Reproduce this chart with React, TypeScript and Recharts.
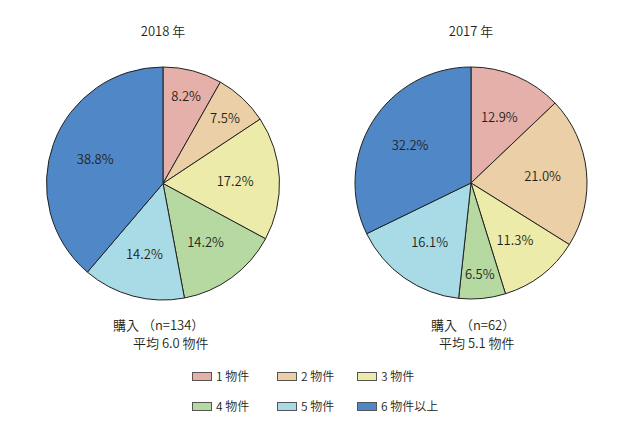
import { PieChart, Pie, Cell } from "recharts";

const categories = ["1 物件", "2 物件", "3 物件", "4 物件", "5 物件", "6 物件以上"];
const colors = ["#e6b0aa", "#ebcfa6", "#ecebaa", "#b6d9a2", "#a9dbe6", "#5087c7"];
const values2018 = [8.2, 7.5, 17.2, 14.2, 14.2, 38.8];
const values2017 = [12.9, 21.0, 11.3, 6.5, 16.1, 32.2];

const FONT = "'Noto Sans CJK JP', 'Noto Sans', sans-serif";
const INK = "#231f20";
const WEIGHT = 350;
const RAD = Math.PI / 180;

const toData = (vals: number[]) => categories.map((name, i) => ({ name, value: vals[i] }));

// labels sit inside the slices; small slices get pushed a bit further out
const renderLabel = (p: any) => {
  const { cx, cy, midAngle, outerRadius, percent, value } = p;
  const r = outerRadius * (percent < 0.1 ? 0.78 : 0.62);
  const x = cx + r * Math.cos(-midAngle * RAD);
  const y = cy + r * Math.sin(-midAngle * RAD);
  return (
    <text x={x} y={y} fill={INK} fontSize={13} fontWeight={WEIGHT} fontFamily={FONT} textAnchor="middle" dominantBaseline="central">
      {value.toFixed(1)}%
    </text>
  );
};

const txt = (left: number, top: number, s: string, size = 13, w?: number) => (
  <div
    style={{
      position: "absolute",
      left,
      top,
      width: w,
      fontSize: size,
      fontWeight: WEIGHT,
      fontFamily: FONT,
      color: INK,
      whiteSpace: "pre",
      textAlign: w ? "center" : "left",
      lineHeight: 1,
    }}
  >
    {s}
  </div>
);

export default function App() {
  const legendX = [192, 277, 357];
  const legendY = [372, 402];
  return (
    <div style={{ position: "absolute", left: 0, top: 0, width: 634, height: 434, background: "#fff" }}>
      <PieChart width={634} height={434} margin={{ top: 0, right: 0, bottom: 0, left: 0 }}>
        <Pie
          data={toData(values2018)}
          dataKey="value"
          cx={163}
          cy={183.5}
          outerRadius={116.5}
          startAngle={90}
          endAngle={-270}
          stroke="#222"
          strokeWidth={1}
          labelLine={false}
          label={renderLabel}
          isAnimationActive={false}
        >
          {categories.map((c, i) => (
            <Cell key={c} fill={colors[i]} />
          ))}
        </Pie>
        <Pie
          data={toData(values2017)}
          dataKey="value"
          cx={471}
          cy={183}
          outerRadius={116}
          startAngle={90}
          endAngle={-270}
          stroke="#222"
          strokeWidth={1}
          labelLine={false}
          label={renderLabel}
          isAnimationActive={false}
        >
          {categories.map((c, i) => (
            <Cell key={c} fill={colors[i]} />
          ))}
        </Pie>
      </PieChart>
      {txt(113, 24, "2018 年", 13, 100)}
      {txt(421, 24, "2017 年", 13, 100)}
      {txt(113, 318, "購入 （n=134）")}
      {txt(133, 336, "平均 6.0 物件")}
      {txt(431, 318, "購入 （n=62）")}
      {txt(439, 336, "平均 5.1 物件")}
      {categories.map((c, i) => {
        const x = legendX[i % 3];
        const y = legendY[Math.floor(i / 3)];
        return (
          <div key={c}>
            <div
              style={{
                position: "absolute",
                left: x,
                top: y,
                width: 18,
                height: 7,
                background: colors[i],
                border: "1px solid #555",
              }}
            />
            {txt(x + 24, y - 2, c, 12)}
          </div>
        );
      })}
    </div>
  );
}
